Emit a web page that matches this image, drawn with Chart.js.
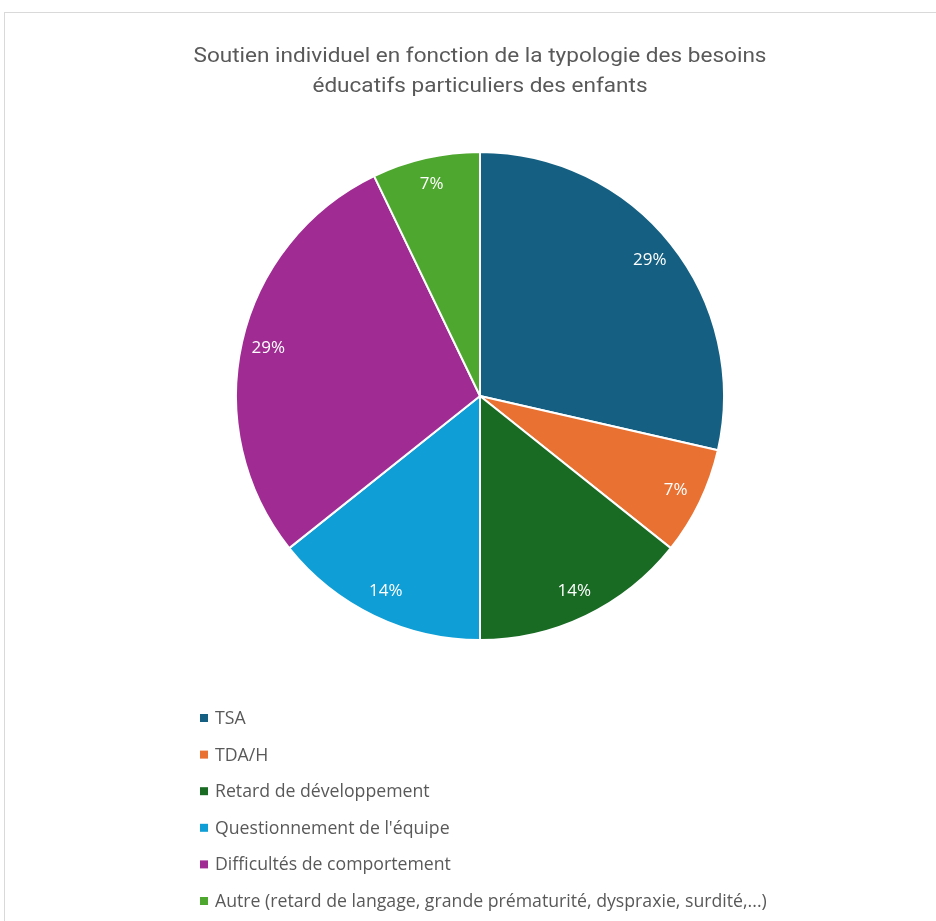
<!DOCTYPE html>
<html><head><meta charset="utf-8">
<script src="https://cdn.jsdelivr.net/npm/chart.js@4/dist/chart.umd.min.js"></script>
<style>html,body{margin:0;padding:0;background:#fff;}#wrap{width:936px;height:921px;position:relative;}</style>
</head><body><div id="wrap"><canvas id="c" width="936" height="921"></canvas></div>
<script>
const titleLines = ["Soutien individuel en fonction de la typologie des besoins", "éducatifs particuliers des enfants"];
const categories = ["TSA", "TDA/H", "Retard de développement", "Questionnement de l'équipe", "Difficultés de comportement", "Autre (retard de langage, grande prématurité, dyspraxie, surdité,...)"];
const values = [4, 1, 2, 2, 4, 1];
const colors = ["#156082", "#E97132", "#196B24", "#0F9ED5", "#A02B93", "#4EA72E"];

const deco = {
  id: 'deco',
  afterDraw(chart) {
    const ctx = chart.ctx;
    ctx.save();
    ctx.strokeStyle = '#d9d9d9'; ctx.lineWidth = 1;
    ctx.strokeRect(4.5, 12.5, 1000, 1000);
    // title (condensed look via horizontal scaling)
    ctx.fillStyle = '#595959';
    ctx.textAlign = 'center'; ctx.textBaseline = 'middle';
    ctx.font = '21px Roboto, sans-serif';
    const w0 = ctx.measureText(titleLines[0]).width;
    const sx = 573 / w0;
    titleLines.forEach((t, i) => {
      ctx.save();
      ctx.translate(480, 57 + i * 30);
      ctx.scale(sx, 1);
      ctx.fillText(t, 0, 0);
      ctx.restore();
    });
    // data labels
    const meta = chart.getDatasetMeta(0);
    const total = values.reduce((a, b) => a + b, 0);
    ctx.font = '17px "Open Sans", sans-serif';
    ctx.fillStyle = '#ffffff';
    meta.data.forEach((arc, i) => {
      const mid = (arc.startAngle + arc.endAngle) / 2;
      const r = arc.outerRadius * 0.89;
      const x = arc.x + Math.cos(mid) * r, y = arc.y + Math.sin(mid) * r;
      ctx.fillText(Math.round(values[i] / total * 100) + '%', x, y);
    });
    // legend
    ctx.textAlign = 'left';
    ctx.font = '17.7px "Open Sans", sans-serif';
    categories.forEach((c, i) => {
      const y = 718 + i * 36.6;
      ctx.fillStyle = colors[i];
      ctx.fillRect(200, y - 4, 8, 8);
      ctx.fillStyle = '#595959';
      ctx.fillText(c, 215, y + 1);
    });
    ctx.restore();
  }
};

new Chart(document.getElementById('c'), {
  type: 'pie',
  data: { labels: categories, datasets: [{ data: values, backgroundColor: colors, borderColor: '#ffffff', borderWidth: 2 }] },
  options: {
    responsive: false, animation: false,
    layout: { padding: { top: 151, bottom: 280, left: 235, right: 211 } },
    plugins: { legend: { display: false }, title: { display: false }, tooltip: { enabled: false } }
  },
  plugins: [deco]
});
</script></body></html>
